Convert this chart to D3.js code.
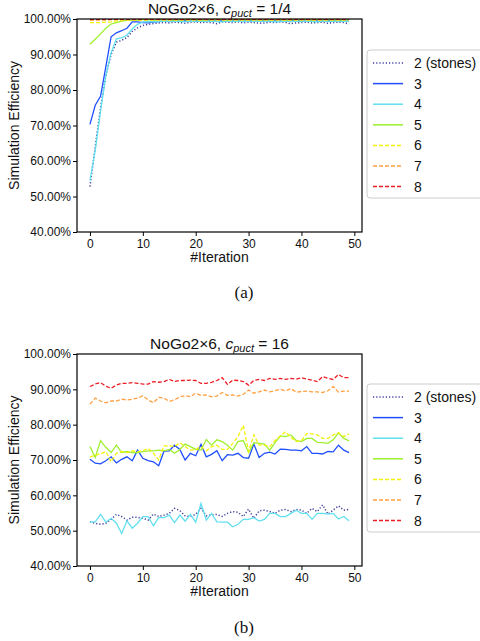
<!DOCTYPE html>
<html>
<head>
<meta charset="utf-8">
<script src="https://cdn.jsdelivr.net/npm/d3@7"></script>
<style>
  body { margin: 0; background: #fff; }
  text { font-family: "Liberation Sans", Arial, sans-serif; fill: #111; }
</style>
</head>
<body>
<svg width="480" height="641"></svg>
<script>
// iteration index on the x axis
var iterations = d3.range(50);

var seriesNames = ["2 (stones)", "3", "4", "5", "6", "7", "8"];
var seriesColors = ["#3b3b9e", "#1f4fff", "#62e0f0", "#9ef02e", "#f2f20a", "#ffa040", "#ee1c25"];
var seriesDash = ["1.2,2", null, null, null, "4,2", "4,2", "4,2"];

var yTicks = [40, 50, 60, 70, 80, 90, 100];
var xTicks = [0, 10, 20, 30, 40, 50];

// panel (a): c_puct = 1/4  (percent)
var topS2 = [52.8,64.0,75.0,84.0,90.0,93.5,94.0,94.8,96.5,97.5, 98.2,98.5,98.7,98.9,99.0,98.9,99.1,99.0,98.8,99.1, 99.2,99.0,99.1,99.0,98.7,99.2,99.1,99.0,99.2,98.9, 99.1,99.0,98.8,98.9,99.1,99.0,99.2,99.0,98.7,98.9, 99.0,99.1,98.9,99.0,99.1,98.8,99.0,99.1,99.0,98.6];
var topS3 = [70.3,75.7,78.2,86.5,95.0,96.1,96.7,97.4,99.2,99.2, 99.0,98.9,99.1,99.3,99.4,99.3,99.5,99.4,99.5,99.4, 99.5,99.4,99.5,99.5,99.4,99.5,99.4,99.5,99.5,99.4, 99.5,99.5,99.4,99.5,99.4,99.5,99.5,99.4,99.5,99.4, 99.5,99.4,99.5,99.5,99.4,99.5,99.4,99.5,99.5,99.4];
var topS4 = [54.5,63.0,74.0,84.0,90.5,94.4,94.7,95.5,97.2,98.5, 99.2,99.3,99.2,99.3,99.4,99.3,99.4,99.3,99.2,99.4, 99.3,99.4,99.3,99.4,99.3,99.2,99.4,99.3,99.4,99.3, 99.4,99.3,99.4,99.3,99.4,99.2,99.3,99.4,99.3,99.4, 99.3,99.4,99.3,99.2,99.4,99.3,99.4,99.3,99.4,99.3];
var topS5 = [92.9,94.3,95.8,97.4,98.6,99.0,99.4,99.6,99.7,99.7, 99.8,99.8,99.7,99.8,99.8,99.8,99.7,99.8,99.8,99.8, 99.8,99.7,99.8,99.8,99.8,99.8,99.7,99.8,99.8,99.8, 99.8,99.8,99.7,99.8,99.8,99.8,99.8,99.7,99.8,99.8, 99.8,99.8,99.7,99.8,99.8,99.8,99.8,99.7,99.8,99.8];
var topS6 = [99.0,99.0,99.0,99.1,99.2,99.5,99.6,99.7,99.7,99.7, 99.7,99.7,99.7,99.7,99.7,99.7,99.7,99.7,99.7,99.7, 99.7,99.7,99.7,99.7,99.7,99.7,99.7,99.7,99.7,99.7, 99.7,99.7,99.7,99.7,99.7,99.7,99.7,99.7,99.7,99.7, 99.7,99.7,99.7,99.7,99.7,99.7,99.7,99.7,99.7,99.7];
var topS7 = [99.6,99.7,99.7,99.7,99.8,99.8,99.8,99.8,99.8,99.8, 99.8,99.8,99.8,99.8,99.8,99.8,99.8,99.8,99.8,99.8, 99.8,99.8,99.8,99.8,99.8,99.8,99.8,99.8,99.8,99.8, 99.8,99.8,99.8,99.8,99.8,99.8,99.8,99.8,99.8,99.8, 99.8,99.8,99.8,99.8,99.8,99.8,99.8,99.8,99.8,99.8];
var topS8 = [99.9,99.9,99.9,99.9,99.9,99.9,99.9,99.9,99.9,99.9, 99.9,99.9,99.9,99.9,99.9,99.9,99.9,99.9,99.9,99.9, 99.9,99.9,99.9,99.9,99.9,99.9,99.9,99.9,99.9,99.9, 99.9,99.9,99.9,99.9,99.9,99.9,99.9,99.9,99.9,99.9, 99.9,99.9,99.9,99.9,99.9,99.9,99.9,99.9,99.9,99.9];

// panel (b): c_puct = 16  (percent)
var botS2 = [52.5,52.1,51.8,52.1,53.2,54.6,54.0,53.0,53.8,53.8, 53.5,53.0,54.7,54.0,54.4,54.9,56.3,55.7,54.2,54.0, 54.6,56.3,54.2,54.5,54.6,54.0,54.9,55.4,55.2,54.0, 56.1,53.5,55.6,55.8,55.4,54.9,55.8,56.0,55.4,56.0, 55.8,54.9,56.3,55.4,57.3,54.7,55.8,57.0,55.8,56.0];
var botS3 = [70.2,69.1,68.9,69.8,70.9,69.2,70.2,70.9,69.8,72.8, 70.5,69.8,69.5,68.4,72.5,72.6,74.2,73.0,70.0,71.9, 71.2,74.4,70.9,71.6,72.6,69.8,71.5,71.4,71.9,70.7, 70.5,74.5,70.7,71.9,72.2,71.7,73.1,73.0,72.8,72.8, 72.6,73.8,71.9,71.9,71.7,72.4,72.3,74.2,72.8,72.1];
var botS4 = [52.5,52.5,54.6,52.4,53.5,52.1,49.2,52.8,50.7,52.1, 54.0,54.0,51.4,53.7,53.7,54.4,52.3,54.4,52.7,54.6, 52.4,57.7,53.0,54.9,52.5,52.4,52.4,51.1,51.8,53.2, 53.2,53.7,52.7,53.2,54.9,54.9,54.0,54.0,54.9,55.8, 54.9,54.9,53.2,54.9,54.9,54.7,54.9,53.3,54.0,52.8];
var botS5 = [73.8,70.7,75.5,73.6,72.1,74.2,72.1,72.4,72.1,72.1, 72.4,72.6,72.6,72.8,72.6,73.0,71.9,73.0,74.5,73.8, 73.0,72.8,75.8,74.2,75.7,75.2,74.2,72.8,75.2,75.5, 72.1,74.9,74.7,74.5,72.8,74.9,76.8,76.6,77.1,75.5, 75.2,76.1,76.1,75.0,74.9,74.7,75.7,77.7,76.1,75.4];
var botS6 = [70.8,71.4,71.7,72.4,69.5,71.9,72.4,72.1,72.6,72.4, 72.6,73.3,71.9,70.0,74.0,74.0,73.8,74.9,73.8,72.8, 73.0,73.8,72.6,73.8,74.2,73.0,73.0,74.7,76.6,79.8, 72.4,77.1,74.2,74.2,73.8,75.5,76.8,78.0,76.4,75.2, 75.5,77.5,77.4,77.1,76.1,76.1,77.1,77.7,76.6,77.4];
var botS7 = [85.8,87.5,86.7,86.2,86.7,86.7,87.2,87.0,87.2,87.5, 88.2,87.0,86.2,87.7,87.5,86.6,87.0,87.9,88.2,87.9, 88.9,88.3,88.4,87.9,88.1,89.1,88.3,88.4,88.1,88.6, 89.8,88.9,89.3,89.8,89.3,89.6,90.0,89.6,90.2,89.2, 89.4,89.5,89.3,89.3,89.1,89.6,90.8,89.2,89.5,89.5];
var botS8 = [90.8,91.5,91.9,90.9,90.3,91.2,91.7,91.7,91.9,91.7, 91.5,91.5,92.2,92.0,92.2,92.8,92.2,92.5,92.5,92.6, 92.5,91.7,91.7,92.0,92.5,93.3,91.4,92.6,92.5,92.2, 91.2,92.5,92.8,92.5,93.1,92.8,93.1,92.8,93.1,92.9, 93.3,92.9,92.6,92.2,93.6,93.1,92.8,94.2,93.3,93.3];

var panels = [
  {top: 19, bottom: 232, cpuct: "1/4", label: "(a)", labelY: 298, legendTop: 50, legendH: 148,
   series: [topS2, topS3, topS4, topS5, topS6, topS7, topS8]},
  {top: 354, bottom: 566, cpuct: "16", label: "(b)", labelY: 633, legendTop: 384, legendH: 148,
   series: [botS2, botS3, botS4, botS5, botS6, botS7, botS8]}
];

var svg = d3.select("svg");
var left = 77, right = 362;

var x = d3.scaleLinear().domain([-2.45, 51.45]).range([left, right]);
var pct = function(d) { return d.toFixed(2) + "%"; };

panels.forEach(function(p) {
  var y = d3.scaleLinear().domain([40, 100]).range([p.bottom, p.top]);
  var g = svg.append("g");

  var clipId = "clip" + p.top;
  g.append("clipPath").attr("id", clipId).append("rect")
      .attr("x", left).attr("y", p.top).attr("width", right - left).attr("height", p.bottom - p.top);

  var line = d3.line()
      .x(function(d, i) { return x(iterations[i]); })
      .y(function(d) { return y(d); });

  p.series.forEach(function(s, k) {
    g.append("path")
        .datum(s)
        .attr("clip-path", "url(#" + clipId + ")")
        .attr("fill", "none")
        .attr("stroke", seriesColors[k])
        .attr("stroke-width", k == 0 ? 1.5 : 1.3)
        .attr("stroke-dasharray", seriesDash[k])
        .attr("d", line);
  });

  // frame
  g.append("rect")
      .attr("x", left).attr("y", p.top)
      .attr("width", right - left).attr("height", p.bottom - p.top)
      .attr("fill", "none").attr("stroke", "#000").attr("stroke-width", 1.2);

  var ax = g.append("g")
      .attr("transform", "translate(0," + p.bottom + ")")
      .call(d3.axisBottom(x).tickValues(xTicks).tickSize(4).tickPadding(3));
  var ay = g.append("g")
      .attr("transform", "translate(" + left + ",0)")
      .call(d3.axisLeft(y).tickValues(yTicks).tickFormat(pct).tickSize(4).tickPadding(2));
  [ax, ay].forEach(function(a) {
    a.select(".domain").remove();
    a.selectAll("line").attr("stroke", "#000").attr("stroke-width", 1);
    a.selectAll("text").attr("font-size", 12).attr("fill", "#111")
        .style("font-family", "Liberation Sans, Arial, sans-serif");
  });

  // title
  var t = g.append("text")
      .attr("x", (left + right) / 2).attr("y", p.top - 5)
      .attr("text-anchor", "middle").attr("font-size", 15.5);
  t.append("tspan").text("NoGo2×6, ");
  t.append("tspan").attr("font-style", "italic").text("c");
  t.append("tspan").attr("font-style", "italic").attr("font-size", 11).attr("dy", 3).text("puct");
  t.append("tspan").attr("dy", -3).text(" = " + p.cpuct);

  g.append("text")
      .attr("transform", "translate(19," + (p.top + p.bottom) / 2 + ") rotate(-90)")
      .attr("text-anchor", "middle").attr("font-size", 14)
      .text("Simulation Efficiency");

  g.append("text")
      .attr("x", (left + right) / 2).attr("y", p.bottom + 30)
      .attr("text-anchor", "middle").attr("font-size", 14)
      .text("#Iteration");

  g.append("text")
      .attr("x", 244).attr("y", p.labelY)
      .attr("text-anchor", "middle").attr("font-size", 17)
      .style("font-family", "Liberation Serif, Times New Roman, serif")
      .text(p.label);

  // legend
  var lg = g.append("g").attr("transform", "translate(367," + p.legendTop + ")");
  lg.append("rect")
      .attr("width", 130).attr("height", p.legendH).attr("rx", 3)
      .attr("fill", "#fff").attr("stroke", "#ccc");
  seriesNames.forEach(function(name, k) {
    var yy = 13 + k * 20.6;
    lg.append("line")
        .attr("x1", 6).attr("x2", 36).attr("y1", yy).attr("y2", yy)
        .attr("stroke", seriesColors[k]).attr("stroke-width", 1.5)
        .attr("stroke-dasharray", seriesDash[k]);
    lg.append("text")
        .attr("x", 47).attr("y", yy + 5)
        .attr("font-size", 14)
        .text(name);
  });
});
</script>
</body>
</html>
